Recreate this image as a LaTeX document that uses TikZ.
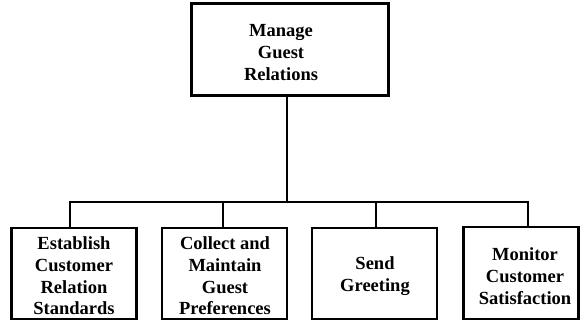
\documentclass[tikz,border=0pt]{standalone}
\usepackage{fontspec}
\setmainfont{Liberation Serif}
\begin{document}
\begin{tikzpicture}[x=1bp,y=-1bp,
  box/.style={draw, line width=2.6bp, inner sep=0pt},
  boxtext/.style={align=center, inner sep=0pt,
    font=\fontsize{18.5bp}{21.7bp}\selectfont\bfseries},
  wire/.style={line width=2bp}]
\useasboundingbox (0,0) rectangle (581,324);
% top process
\node[box, minimum width=197bp, minimum height=92bp] (top) at (290,49.5) {};
\node[boxtext, font=\fontsize{18.5bp}{22.3bp}\selectfont\bfseries] (toptext)
  at (281,52.5) {Manage\\Guest\\Relations};
% sub-processes
\node[box, minimum width=125bp, minimum height=91bp] (b1) at (74,273.5) {};
\node[boxtext] (t1) at (74,276) {Establish\\Customer\\Relation\\Standards};
\node[box, minimum width=125bp, minimum height=91bp] (b2) at (224.5,273.5) {};
\node[boxtext] (t2) at (225,276) {Collect and\\Maintain\\Guest\\Preferences};
\node[box, minimum width=125bp, minimum height=91bp] (b3) at (374.5,273.5) {};
\node[boxtext] (t3) at (375,276) {Send\\Greeting};
\node[box, minimum width=115bp, minimum height=92bp] (b4) at (521,273) {};
\node[boxtext] (t4) at (525,276) {Monitor\\Customer\\Satisfaction};
% bus line
\coordinate (bus) at (287,202);
\coordinate (d1) at (70,202);
\coordinate (d2) at (223,202);
\coordinate (d3) at (376,202);
\coordinate (d4) at (528,202);
\draw[wire] (top.south -| bus) -- (bus);
\draw[wire] (d1 |- b1.north) -- (d1) -- (d4) -- (d4 |- b4.north);
\draw[wire] (d2) -- (d2 |- b2.north);
\draw[wire] (d3) -- (d3 |- b3.north);
\end{tikzpicture}
\end{document}
